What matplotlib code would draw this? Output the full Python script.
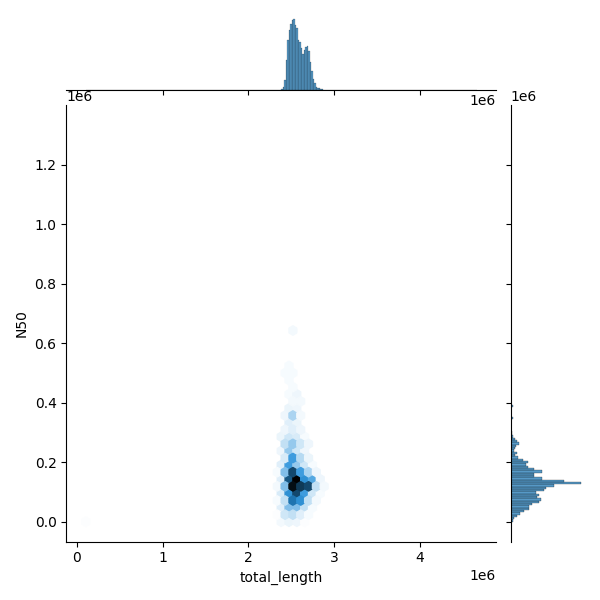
import numpy as np
import pandas as pd
import matplotlib
matplotlib.use("Agg")
import matplotlib.pyplot as plt
import seaborn as sns
from seaborn.utils import set_hls_values

# ---- hexbin cells (values in millions), count per cell ----
hex_x = [2.385, 2.476, 2.567, 2.659, 0.105,
         2.339, 2.431, 2.522, 2.613, 2.704,
         2.385, 2.476, 2.567, 2.659, 2.750,
         2.339, 2.431, 2.522, 2.613, 2.704, 2.795,
         2.385, 2.476, 2.567, 2.659, 2.750, 2.841,
         2.339, 2.431, 2.522, 2.613, 2.704, 2.795, 2.887,
         2.385, 2.476, 2.567, 2.659, 2.750, 2.841,
         2.339, 2.431, 2.522, 2.613, 2.704, 2.795,
         2.385, 2.476, 2.567, 2.659, 2.750,
         2.431, 2.522, 2.613, 2.704,
         2.385, 2.476, 2.567, 2.659,
         2.431, 2.522, 2.613, 2.704,
         2.385, 2.476, 2.567, 2.659,
         2.431, 2.522, 2.613,
         2.476, 2.567,
         2.431, 2.522, 2.613,
         2.476, 2.567,
         2.522, 2.613,
         2.476, 2.567,
         2.522,
         2.476,
         2.431, 2.522,
         2.476,
         2.522,
         4.665, 2.600]
hex_y = [0.0, 0.0, 0.0, 0.0, 0.0,
         0.0238, 0.0238, 0.0238, 0.0238, 0.0238,
         0.0476, 0.0476, 0.0476, 0.0476, 0.0476,
         0.0714, 0.0714, 0.0714, 0.0714, 0.0714, 0.0714,
         0.0952, 0.0952, 0.0952, 0.0952, 0.0952, 0.0952,
         0.1190, 0.1190, 0.1190, 0.1190, 0.1190, 0.1190, 0.1190,
         0.1428, 0.1428, 0.1428, 0.1428, 0.1428, 0.1428,
         0.1666, 0.1666, 0.1666, 0.1666, 0.1666, 0.1666,
         0.1904, 0.1904, 0.1904, 0.1904, 0.1904,
         0.2142, 0.2142, 0.2142, 0.2142,
         0.2380, 0.2380, 0.2380, 0.2380,
         0.2618, 0.2618, 0.2618, 0.2618,
         0.2856, 0.2856, 0.2856, 0.2856,
         0.3094, 0.3094, 0.3094,
         0.3333, 0.3333,
         0.3571, 0.3571, 0.3571,
         0.3809, 0.3809,
         0.4047, 0.4047,
         0.4285, 0.4285,
         0.4523,
         0.4761,
         0.4999, 0.4999,
         0.5237,
         0.6427,
         0.100, 1.333]
hex_count = [4, 6, 5, 2, 2,
             2, 12, 15, 8, 3,
             8, 30, 30, 15, 3,
             3, 15, 60, 50, 15, 4,
             10, 50, 75, 45, 12, 3,
             4, 30, 95, 80, 75, 15, 4,
             8, 70, 100, 50, 40, 5,
             3, 30, 75, 45, 20, 5,
             8, 45, 25, 12, 3,
             10, 45, 18, 6,
             5, 25, 12, 5,
             15, 25, 12, 5,
             6, 12, 10, 3,
             5, 8, 5,
             8, 6,
             5, 20, 4,
             6, 5,
             4, 4,
             3, 5,
             3,
             3,
             3, 3,
             3,
             4,
             1, 1]

# ---- marginal histograms ----
x_min, x_max = 0.105, 4.665        # data range (millions)
y_min, y_max = 0.0, 1.333
x_nbins, y_nbins = 260, 170
x_first_bin = 130
x_hist_counts = [1, 3.3, 10, 30, 50, 60, 66, 70, 71, 65, 62, 50, 48, 42,
                 36, 40, 43, 44, 39, 28, 19, 11, 6.7, 3.3, 2.7, 2.3, 1.7, 1, 0.5]
y_first_bin = 0
y_hist_counts = [1.7, 3.3, 6, 9, 13, 18, 18, 21, 27, 29, 26, 27, 25, 32, 34,
                 42, 69, 52, 30, 23, 23, 30, 23, 16.7, 15, 16.7, 11.7, 6.7,
                 4.3, 5.7, 3.3, 4, 5, 8.3, 5.7, 4, 1.7, 1, 1, 0, 0, 0, 0, 0,
                 2.3, 0, 0, 0, 0, 1.7]

x_edges = np.linspace(x_min, x_max, x_nbins + 1) * 1e6
y_edges = np.linspace(y_min, y_max, y_nbins + 1) * 1e6
x_centers = (x_edges[:-1] + x_edges[1:]) / 2
y_centers = (y_edges[:-1] + y_edges[1:]) / 2
df_x = pd.DataFrame({"v": x_centers[x_first_bin:x_first_bin + len(x_hist_counts)],
                     "w": x_hist_counts})
df_y = pd.DataFrame({"v": y_centers[y_first_bin:y_first_bin + len(y_hist_counts)],
                     "w": y_hist_counts})

# ---- colormap like seaborn's jointplot hex ----
color_rgb = matplotlib.colors.to_rgb("C0")
colors = [set_hls_values(color_rgb, l=l) for l in np.linspace(1, 0, 12)]
cmap = sns.blend_palette(colors, as_cmap=True)

g = sns.JointGrid(height=6, ratio=5, space=0.2)
g.ax_joint.hexbin(np.array(hex_x) * 1e6, np.array(hex_y) * 1e6,
                  C=np.array(hex_count, dtype=float), reduce_C_function=np.sum,
                  gridsize=50, cmap=cmap,
                  extent=(x_min * 1e6, x_max * 1e6, y_min * 1e6, y_max * 1e6))
sns.histplot(data=df_x, x="v", weights="w", bins=x_nbins,
             binrange=(x_min * 1e6, x_max * 1e6), ax=g.ax_marg_x)
sns.histplot(data=df_y, y="v", weights="w", bins=y_nbins,
             binrange=(y_min * 1e6, y_max * 1e6), ax=g.ax_marg_y)
for ax in (g.ax_marg_x, g.ax_marg_y):
    ax.set_xlabel("")
    ax.set_ylabel("")
g.set_axis_labels("total_length", "N50")

g.figure.tight_layout()
g.figure.subplots_adjust(hspace=0.2, wspace=0.2)
g.figure.savefig("out.png", dpi=100)
